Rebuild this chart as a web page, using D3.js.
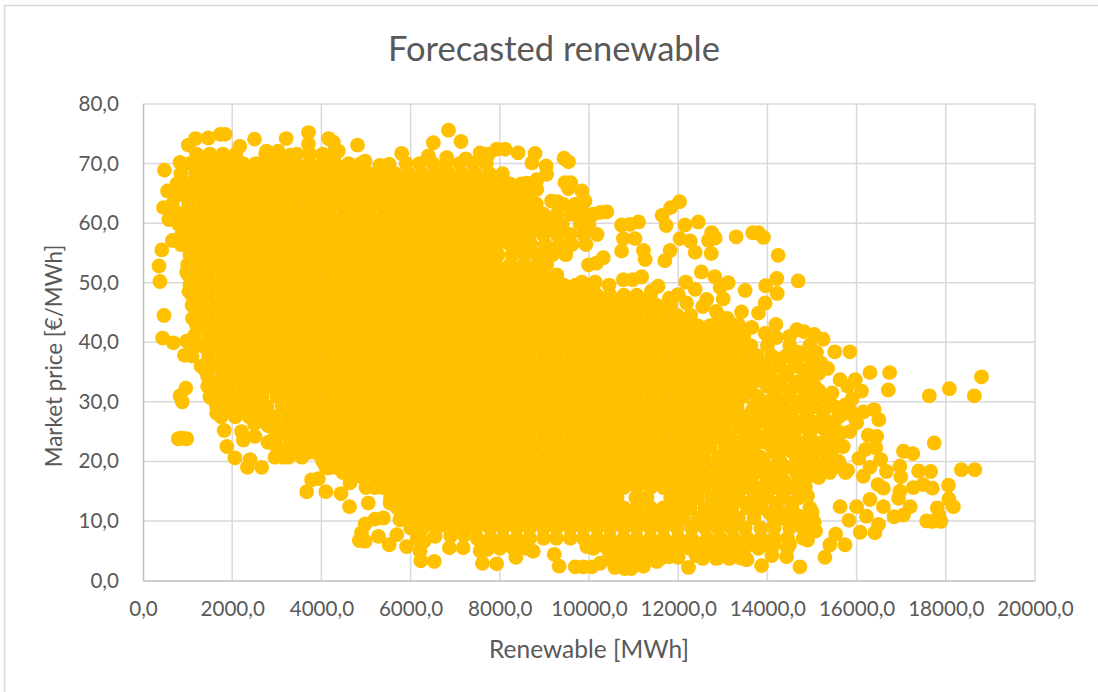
<!DOCTYPE html>
<html>
<head>
<meta charset="utf-8">
<script src="https://cdn.jsdelivr.net/npm/d3@7"></script>
<style>
  html, body { margin: 0; padding: 0; background: #fff; }
  text { font-family: Lato, "Open Sans", sans-serif; fill: #595959; }
</style>
</head>
<body>
<svg id="chart" width="1098" height="692"></svg>
<script>
const title = "Forecasted renewable";
const xTitle = "Renewable [MWh]";
const yTitle = "Market price [€/MWh]";
const xTicks = [0, 2000, 4000, 6000, 8000, 10000, 12000, 14000, 16000, 18000, 20000];
const yTicks = [0, 10, 20, 30, 40, 50, 60, 70, 80];

// single dots that can be told apart along the edge of the cloud: [MWh, price]
const leftEdge = [[1180,74.2],[1465,74.3],[1730,74.9],[1840,74.9],[1016,73.1],[2500,74.1],[3210,74.2],[3710,75.2],[3710,73.3],[4160,74.2],[4270,73.6],[4810,73.1],[4380,72.1],[4980,70.4],[5310,69.7],[5520,69.9],[5800,71.7],[2770,72.1],[3030,72.1],[3300,71.4],[2170,72.9],[830,70.2],[480,68.9],[550,65.4],[460,62.6],[580,60.6],[660,57.1],[420,55.5],[360,52.8],[380,50.2],[470,44.5],[440,40.7],[680,39.9],[980,40.2],[930,37.8],[1390,35.4],[980,51.7],[1030,48.5],[1110,44],[830,64.8],[760,61.7],[960,32.3],[830,31],[880,30],[870,23.9],[980,23.8],[790,23.8],[1520,30.7],[1650,28.1],[1820,25.2],[1880,22.5],[2210,25],[2250,23.6],[2510,24.2],[2340,19],[2660,19],[2060,20.6],[2400,20.3],[2960,20.7],[3260,20.7],[3560,20.7],[3900,21.4],[4160,18.9],[3780,16.9],[3930,17.1],[3670,14.9],[4100,14.9],[4440,14.6],[4630,12.4],[5050,13],[5260,16.1],[5540,13],[5390,10.5],[4980,9.5],[4900,8],[4850,6.7],[4980,6.6],[5200,10.3],[5280,7.4],[5520,6],[5690,7.7],[5760,10.2],[4640,16.4]];
const bottomEdge = [[6230,3.3],[6530,3.2],[6870,5.5],[7180,5.5],[7610,2.9],[7930,2.8],[7720,5.2],[8360,3.9],[8750,4.9],[9220,4.4],[9330,2.4],[9690,2.3],[9870,2.3],[10060,2.3],[10250,2.9],[9950,5.7],[10580,2.2],[10800,2],[10950,2],[11220,2.4],[11520,3.2],[12230,2.2],[12560,3.8],[12900,3.8],[13390,3.8],[13540,3.5],[6210,4.9],[5910,5.7],[13870,2.5],[14730,2.3],[14430,4],[15290,3.9],[15400,6],[15740,6],[15530,7.8],[15080,8.3],[6300,6.6],[6150,7],[6550,7.4],[6900,7.5],[7200,7.6],[7500,7],[7700,6.5],[7560,5]];
const rightEdge = [[18800,34.2],[18080,32.2],[17630,31],[18640,31],[16710,32],[16740,34.9],[16300,34.9],[17740,23.1],[17050,21.7],[17260,21.3],[18350,18.6],[18650,18.6],[17390,18.4],[17660,18.3],[18060,16],[17700,15.5],[17490,16.1],[17270,15.6],[16970,15],[16940,13.8],[17200,12.4],[17050,11],[16840,10.7],[18170,12.4],[18070,13.7],[17810,12.2],[17890,9.9],[17700,9.9],[17570,10],[17840,11],[16990,17.4],[16970,19.2],[16670,18.3],[16540,20.3],[16430,22.3],[16450,24.2],[16260,24.4],[16500,27],[16390,28.7],[16110,31.8],[16490,9.4],[16410,8],[16080,8.1],[16220,10.8],[15830,10.1],[16000,12.4],[15630,12.4],[16300,13.6],[16600,12.4],[16600,15.5],[16480,16.1],[15850,38.4],[15510,38.4],[15630,33.7],[15970,33.7],[15800,32.6],[15900,30.5],[16150,28.3],[16000,26.5],[15850,28.5],[16200,22],[16050,20.5],[16300,19],[15800,18.5],[16150,17.5],[15700,22.5],[15850,25]];
const upperRight = [[6850,75.6],[6510,73.5],[7130,73.7],[9540,70.3],[9440,70.9],[8790,71.7],[8410,71.8],[8120,72.4],[7930,72.4],[7560,71.8],[7750,71.6],[7240,70.8],[6810,71],[6400,71.3],[9040,69.6],[9050,68.2],[8720,70.1],[8830,67.3],[8830,65.7],[8600,66.7],[9460,66.8],[9590,66.8],[9540,65.8],[9840,65.4],[9910,63.7],[9160,63.7],[9300,63.6],[10400,61.9],[10250,61.8],[10100,61.5],[11110,60.2],[10920,59.8],[10730,59.7],[12030,63.6],[11830,62.6],[11640,61.3],[11730,59.6],[12150,59.7],[12450,60.2],[12750,58.4],[12830,57.5],[12680,57.1],[13300,57.7],[13670,58.4],[13800,58.4],[13910,57.6],[14240,54.6],[12740,54.9],[12380,55.1],[12270,57],[12040,57.4],[11820,55.4],[11700,53.7],[11260,53.9],[11220,55.4],[11030,57.4],[10770,57.4],[10730,55.3],[10320,54.2],[10170,53.3],[9990,53],[11180,51],[10980,50.5],[10770,50.5],[10140,50.1],[9840,50.1],[9460,49.4],[11550,49.4],[11400,48.6],[12520,51.8],[12820,51],[13120,50],[12940,49.2],[12170,50.1],[12380,48.9],[12640,47.2],[12190,46.6],[13010,47.3],[13500,48.7],[13960,49.5],[14210,50.7],[14220,48.2],[14690,50.3],[13950,46.6],[13800,44.9],[13420,45.1],[14190,43],[14660,42.1],[14820,41.8],[15050,41.3],[15250,40.5],[14950,39.5],[12850,45.2],[13100,44],[13350,43],[13650,42.5],[13950,41.5],[14200,40.8],[14500,39.5],[14700,38.3],[14500,41],[14950,37.5],[15200,36.5],[15350,35.6],[15100,38.3],[13250,41.9],[12550,46],[11800,47.4],[12000,48],[14300,37.2],[14650,36.8],[15000,36.5]];

// dots inside the cloud that the rows below leave out
const innerDots = [[7480,54.7],[7780,54.7],[8580,54.7],[8230,56.4],[8500,56.4],[7400,55.8],[7700,56.2],[2670,30.9],[2780,29.2],[2670,27.5],[2500,26.3],[2800,26],[2350,28.6],[3550,24.1],[3270,22.4],[3150,25],[2800,23.2],[2950,24],[3700,21.5],[3450,21.6],[3900,22.8],[4030,20],[3100,21.8],
  [13620,31.7],[13650,28.4],[13600,26.7],[13650,24.9],[13620,23.2],[13650,21.5],[13600,19.8],
  [14050,35.2],[14420,35.1],[14800,35.3],[15150,34.8],[13900,33.4],[14300,33.5],[14650,33.3],[15000,33.4],[14150,31.7],[14500,31.8],[14850,31.6],[15150,31.9],[15450,31.5],[13950,30],[14320,30.1],[14680,30],[15050,30],[15400,29.9],[15750,29.5],[14100,28.4],[14500,28.3],[14880,28.4],[15250,28.4],[15700,28],[13950,26.6],[14350,26.7],[14720,26.6],[15100,26.6],[15350,26.7],[14150,25],[14550,25],[14950,24.9],[15330,24.9],[15650,24.8],[13950,23.2],[14350,23.3],[14720,23.2],[15100,23.1],[15500,23.2],[14150,21.5],[14550,21.6],[14900,21.5],[15300,21.6],[13900,20],[14300,19.8],[14700,19.9],[15050,20],[15350,20.2],[15600,20],[14050,16.5],[14400,16.5],[14700,16.6],[13700,15],[14000,15],[14350,15],[14650,15.2],[14900,14.2],[13500,13],[13850,13],[14200,13],[14550,13],[14400,11.3],[14050,11.3],[13700,11.3],[14700,10.8],[15000,11.5],[14150,9.5],[14500,9.6],[14800,9.7],[15050,9.8],[14900,6.8],[14500,6.1],[14150,6.1],[13850,6],[13500,5.5],[14100,4.2],
  [8230,6.2],[8520,6.2],[10250,6.2],[10620,6.2],[10920,6.2],[11220,6.2],[11520,6.2],[11800,6.2],[12100,6.2],[12400,6.2],[12700,6.2],[13000,6.2],[13300,6.2],[13650,6.2],[10600,4.6],[10900,4.6],[11200,4.6],[11450,4.4],[12700,4.6],[13000,4.6],[13300,4.6],[11800,4],[12000,3.9],[12400,4.2]];

// the solid part of the cloud, read row by row
const denseLevels = [71.6,70,68.3,66.6,64.9,63.2,61.5,59.8,58.1,56.4,54.7,53,51.3,49.6,47.9,46.2,44.5,42.8,41.1,39.4,37.7,36,34.3,32.6,30.9,29.2,27.5,25.8,24.1,22.4,20.7,19,18.15,17.3,15.6,13.9,12.2,10.5,8.8,7.1,5.4,3.7];
const denseRenewable = [
  [1200,1500,1790,2080,2750,3040,3450,3740,4030,4250],
  [1050,1340,1640,1930,2240,2530,2820,3130,3420,3720,4010,4310,4610,4890,5900,6200,6500,6800,7100,7400,7700],
  [850,1180,1480,1790,2080,2390,2680,2980,3290,3580,3880,4170,4480,4770,5080,5370,5660,5960,6260,6570,6860,7160,7460,7770,8060],
  [760,1030,1330,1630,1940,2230,2530,2840,3130,3430,3740,4030,4330,4630,4930,5220,5530,5820,6120,6430,6720,7020,7330,7620,7920,8220,8480],
  [720,880,1180,1490,1780,2080,2390,2680,2980,3290,3580,3880,4190,4480,4780,5090,5380,5680,5990,6280,6580,6890,7180,7480,7790,8080,8380,8680],
  [660,1020,1330,1620,1930,2230,2520,2830,3130,3420,3730,4030,4320,4630,4930,5220,5530,5830,6120,6430,6730,7020,7330,7630,7920,8230,8530,8820,9420,9700],
  [760,880,1190,1480,1790,2080,2380,2690,2980,3280,3590,3880,4180,4490,4780,5080,5390,5680,5980,6290,6580,6880,7190,7480,7780,8090,8380,8680,8980,9280,9600,9900],
  [800,1030,1320,1630,1920,2230,2520,2820,3130,3420,3720,4030,4320,4620,4930,5220,5520,5830,6120,6420,6730,7020,7320,7630,7920,8220,8530,8820,9120,9400,9800,10000],
  [870,1180,1480,1770,2080,2370,2680,2970,3280,3570,3880,4170,4480,4770,5080,5370,5680,5970,6280,6570,6880,7170,7480,7770,8080,8370,8680,8970,9280,9570,9880,10180],
  [850,1030,1320,1630,1920,2230,2520,2830,3120,3430,3720,4030,4320,4630,4920,5230,5520,5830,6120,6430,6720,7030,7320,7630,7950,8700,9020,9330,9620,9930],
  [1050,1180,1470,1780,2070,2380,2670,2980,3270,3580,3870,4180,4470,4780,5070,5380,5670,5980,6270,6580,6870,7180,7960,8280,8880,9180,9480],
  [1000,1320,1630,1920,2230,2520,2830,3120,3430,3720,4030,4320,4630,4920,5230,5520,5830,6120,6430,6720,7030,7320,7630,7920,8230,8530,8830,9050],
  [1020,1180,1470,1780,2070,2380,2670,2980,3270,3580,3870,4180,4470,4780,5070,5380,5670,5980,6270,6580,6870,7180,7470,7780,8070,8380,8680,8980,9280],
  [1050,1320,1630,1920,2230,2520,2830,3120,3430,3720,4030,4320,4630,4920,5230,5520,5830,6120,6430,6720,7030,7320,7630,7920,8230,8520,8830,9120,9430,9700,10030,10450],
  [1100,1180,1470,1780,2070,2380,2670,2980,3270,3580,3870,4180,4470,4780,5070,5380,5670,5980,6270,6580,6870,7180,7470,7780,8070,8380,8670,8980,9270,9580,9870,10180,10470,10780,11070,11380],
  [1100,1320,1630,1920,2230,2520,2830,3120,3430,3720,4030,4320,4630,4920,5230,5520,5830,6120,6430,6720,7030,7320,7630,7920,8230,8520,8830,9120,9430,9720,10030,10320,10630,10920,11230,11520,11830],
  [1200,1470,1780,2070,2380,2670,2980,3270,3580,3870,4180,4470,4780,5070,5380,5670,5980,6270,6580,6870,7180,7470,7780,8070,8380,8670,8980,9270,9580,9870,10180,10470,10780,11070,11380,11670,11980,12280,12900],
  [1200,1330,1630,1920,2230,2520,2830,3120,3430,3720,4030,4320,4630,4920,5230,5520,5830,6120,6430,6720,7030,7320,7630,7920,8230,8520,8830,9120,9430,9720,10030,10320,10630,10920,11230,11520,11830,12120,12430,12720,13000],
  [1150,1470,1780,2070,2380,2670,2980,3270,3580,3870,4180,4470,4780,5070,5380,5670,5980,6270,6580,6870,7180,7470,7780,8070,8380,8670,8980,9270,9580,9870,10180,10470,10780,11070,11380,11670,11980,12270,12580,12870,13180,13470],
  [1100,1330,1630,1920,2230,2520,2830,3120,3430,3720,4030,4320,4630,4920,5230,5520,5830,6120,6430,6720,7030,7320,7630,7920,8230,8520,8830,9120,9430,9720,10030,10320,10630,10920,11230,11520,11830,12120,12430,12720,13030,13320,13630,14000],
  [1100,1470,1780,2070,2380,2670,2980,3270,3580,3870,4180,4470,4780,5070,5380,5670,5980,6270,6580,6870,7180,7470,7780,8070,8380,8670,8980,9270,9580,9870,10180,10470,10780,11070,11380,11670,11980,12270,12580,12870,13180,13470,13780,14100,14420],
  [1300,1630,1920,2230,2520,2830,3120,3430,3720,4030,4320,4630,4920,5230,5520,5830,6120,6430,6720,7030,7320,7630,7920,8230,8520,8830,9120,9430,9720,10030,10320,10630,10920,11230,11520,11830,12120,12430,12720,13030,13320,13630,13920,14250,14620],
  [1450,1770,2070,2380,2670,2980,3270,3580,3870,4180,4470,4780,5070,5380,5670,5980,6270,6580,6870,7180,7470,7780,8070,8380,8670,8980,9270,9580,9870,10180,10470,10780,11070,11380,11670,11980,12270,12580,12870,13180,13470,13780,14070,14450,14880],
  [1450,1630,1920,2230,2520,2830,3120,3430,3720,4030,4320,4630,4920,5230,5520,5830,6120,6430,6720,7030,7320,7630,7920,8230,8520,8830,9120,9430,9720,10030,10320,10630,10920,11230,11520,11830,12120,12430,12720,13030,13320,13630,14000,14300,14700,15060],
  [1500,1770,2070,2380,3000,3270,3580,3870,4180,4470,4780,5070,5380,5670,5980,6270,6580,6870,7180,7470,7780,8070,8380,8670,8980,9270,9580,9870,10180,10470,10780,11070,11380,11670,11980,12270,12580,12870,13180,13470,13780,14150,14500,14850,15250],
  [1650,1920,2230,2520,3120,3430,3720,4030,4320,4630,4920,5230,5520,5830,6120,6430,6720,7030,7320,7630,7920,8230,8520,8830,9120,9430,9720,10030,10320,10630,10920,11230,11520,11830,12120,12430,12720,13030,13320,13700,14000,14350,14750,15050,15500],
  [1750,2070,2380,2950,3270,3580,3870,4180,4470,4780,5070,5380,5670,5980,6270,6580,6870,7180,7470,7780,8070,8380,8670,8980,9270,9580,9870,10180,10470,10780,11070,11380,11670,11980,12270,12580,12870,13180,13470,13850,14200,14550,14900,15600,15950],
  [2900,3120,3430,3720,4030,4320,4630,4920,5230,5520,5830,6120,6430,6720,7030,7320,7630,7920,8230,8520,8830,9120,9430,9720,10030,10320,10630,10920,11230,11520,11830,12120,12430,12720,13030,13350,13700,14050,14400,14800,15200,15500],
  [3000,3270,3700,3870,4180,4470,4780,5070,5380,5670,5980,6270,6580,6870,7180,7470,7780,8070,8380,8670,8980,9270,9580,9870,10180,10470,10780,11070,11380,11670,11980,12270,12580,12870,13180,13500,13850,14250,14600,14950,15350],
  [3000,3430,3720,4030,4320,4630,4920,5230,5520,5830,6120,6430,6720,7030,7320,7630,7920,8230,8520,8830,9120,9430,9720,10030,10320,10630,10920,11230,11520,11830,12120,12430,12720,13050,13350,13700,14100,14450,14800,15200,15500],
  [3150,4180,4470,4780,5070,5380,5670,5980,6270,6580,6870,7180,7470,7780,8070,8380,8670,8980,9270,9580,9870,10180,10470,10780,11070,11380,11670,11980,12270,12580,12900,13200,13500,13850,14250,14650,15000,15450],
  [4100,4320,4630,4920,5230,5520,5830,6120,6430,6720,7030,7320,7630,7920,8230,8520,8830,9120,9430,9720,10030,10320,10630,10920,11230,11520,11830,12120,12430,12750,13050,13350,13700,14050,14450,14900,15200,15650],
  [4480,4780,5070,5380,5680,5980,6270,6580,6870,7180,7470,7780,8070,8380,8670,8980,9270,9580,9870,10180,10470,10780,11070,11380,11670,11980,12270,12600,12900,13200,13530,13900,14250,14650,15000,15400,15750],
  [4700,4930,5230,5520,5830,6120,6430,6720,7030,7320,7630,7920,8230,8520,8830,9120,9430,9720,10030,10320,10630,10920,11230,11520,11830,12120,12430,12720,13030,13350,13650,14000,14300,14900,15150],
  [5000,5200,5380,5670,5980,6270,6580,6870,7180,7470,7780,8070,8380,8670,8980,9270,9580,9870,10180,10470,10780,11070,11380,11670,11980,12270,12580,12900,13200,13500,13850,14150,14500,14850],
  [5550,5830,6120,6430,6720,7030,7320,7630,7920,8230,8520,8830,9120,9430,9720,10030,10320,10630,11050,11300,11830,12120,12430,12750,13050,13350,13700,14000,14350,14700],
  [5700,5980,6270,6580,6870,7180,7470,7780,8070,8380,8670,8980,9270,9580,9870,10180,10470,10780,11070,11380,11670,11980,12270,12600,12900,13200,13550,13850,14200,14550,14950],
  [5900,6120,6430,6720,7030,7320,7630,7920,8230,8520,8830,9120,9430,9720,10030,10320,10630,10920,11230,11520,11830,12120,12450,12750,13050,13350,13700,14300,14650,15000],
  [6000,6270,6580,6870,7180,7470,7780,8070,8380,8670,8980,9270,9580,9870,10180,10470,10780,11070,11380,11670,11980,12300,12600,12900,13200,13500,13850,14150,14500,14800],
  [7800,8080,8380,8670,8980,9270,9580,9870,10180,10470,10780,11070,11380,11680,12000,12300,12650,12950,13250,13550,13850,14150,14450,14800],
  [8000,8300,8600,10100,10400,10700,11000,11300,11600,11900,12250,12550,12850,13150,13450,13800,14100,14450],
  [10450,10750,11050,11350,11600,12550,12850,13150,13450]
];

const width = +d3.select("#chart").attr("width");
const height = +d3.select("#chart").attr("height");
const plot = { left: 143, right: 1035, top: 104, bottom: 580.5 };

const x = d3.scaleLinear().domain([0, 20000]).range([plot.left, plot.right]);
const y = d3.scaleLinear().domain([0, 80]).range([plot.bottom, plot.top]);

const commaFormat = d3.formatLocale({ decimal: ",", thousands: "", grouping: [3], currency: ["", ""] }).format(".1f");

const svg = d3.select("#chart");

// chart area frame, only the left and top side are in the picture
svg.append("path")
    .attr("d", `M4.5 ${height} V5.5 H${width}`)
    .attr("fill", "none")
    .attr("stroke", "#d9d9d9")
    .attr("stroke-width", 1.5);

svg.append("g")
    .selectAll("line")
    .data(xTicks.slice(1))
    .enter().append("line")
    .attr("x1", d => x(d)).attr("x2", d => x(d))
    .attr("y1", plot.top).attr("y2", plot.bottom)
    .attr("stroke", "#d9d9d9").attr("stroke-width", 1.5);

svg.append("g")
    .selectAll("line")
    .data(yTicks.slice(1))
    .enter().append("line")
    .attr("x1", plot.left).attr("x2", plot.right)
    .attr("y1", d => y(d)).attr("y2", d => y(d))
    .attr("stroke", "#d9d9d9").attr("stroke-width", 1.5);

const xAxis = svg.append("g")
    .attr("transform", `translate(0,${plot.bottom})`)
    .call(d3.axisBottom(x).tickValues(xTicks).tickFormat(commaFormat).tickSize(0).tickPadding(21));
const yAxis = svg.append("g")
    .attr("transform", `translate(${plot.left},0)`)
    .call(d3.axisLeft(y).tickValues(yTicks).tickFormat(commaFormat).tickSize(0).tickPadding(24));

for (const axis of [xAxis, yAxis]) {
    axis.select(".domain").attr("stroke", "#bfbfbf").attr("stroke-width", 1.5);
    axis.selectAll("text").style("font-family", 'Lato, "Open Sans", sans-serif').style("font-size", "20.6px").attr("fill", "#595959");
}

// all dots, flattened from the arrays above
const points = [...leftEdge, ...bottomEdge, ...rightEdge, ...upperRight, ...innerDots]
    .map(([renewable, price]) => ({ renewable, price }));
denseRenewable.forEach((row, i) => {
    for (const renewable of row) points.push({ renewable, price: denseLevels[i] });
});

svg.append("g")
    .attr("class", "dots")
    .selectAll("circle")
    .data(points)
    .enter().append("circle")
    .attr("cx", d => x(d.renewable))
    .attr("cy", d => y(d.price))
    .attr("r", 7.4)
    .attr("fill", "#ffc000");

svg.append("text")
    .attr("x", 554).attr("y", 61)
    .attr("text-anchor", "middle")
    .style("font-size", "34.5px")
    .text(title);

svg.append("text")
    .attr("x", 589).attr("y", 658)
    .attr("text-anchor", "middle")
    .style("font-size", "24.5px")
    .text(xTitle);

svg.append("text")
    .attr("transform", "translate(62,356) rotate(-90)")
    .attr("text-anchor", "middle")
    .style("font-size", "22.4px")
    .text(yTitle);
</script>
</body>
</html>
